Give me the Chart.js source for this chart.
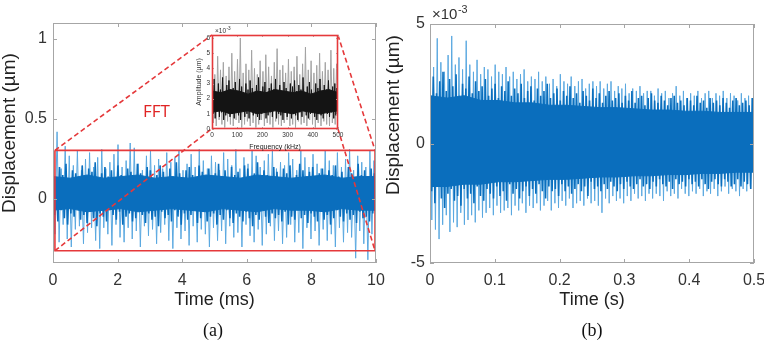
<!DOCTYPE html>
<html>
<head>
<meta charset="utf-8">
<script src="https://cdn.jsdelivr.net/npm/chart.js@4.4.0/dist/chart.umd.min.js"></script>
<style>
  html, body { margin: 0; padding: 0; background: #fff; }
  #wrap { position: relative; width: 764px; height: 350px; overflow: hidden; }
  #wrap canvas { position: absolute; }
  .cap { position: absolute; top: 320px; width: 40px; line-height: 20px; text-align: center;
         font: 18px "Liberation Serif", "Times New Roman", serif; color: #111; }
</style>
</head>
<body>
<div id="wrap">
  <canvas id="chartA" width="385" height="350" style="left:0;top:0"></canvas>
  <canvas id="chartB" width="384" height="350" style="left:380px;top:0"></canvas>
  <canvas id="chartInset"></canvas>
  <div class="cap" style="left:193px">(a)</div>
  <div class="cap" style="left:572px">(b)</div>
</div>
<script>
// ---- (a) displacement, 0-10 ms (um) ----
const timeRangeA = [0, 10];
const xTicksA = [0, 2, 4, 6, 8, 10];
const yTicksA = [0, 0.5, 1];
// sparse outer tips of the trace (light), read left to right
const tipsTopA = [
  0.24, 0.42, 0.19, 0.33, 0.27, 0.21, 0.3, 0.18, 0.25, 0.29,
  0.2, 0.26, 0.31, 0.19, 0.23, 0.28, 0.34, 0.2, 0.24, 0.35,
  0.32, 0.22, 0.18, 0.27, 0.3, 0.21, 0.25, 0.19, 0.29, 0.23,
  0.26, 0.3, 0.18, 0.22, 0.28, 0.2, 0.31, 0.24, 0.19, 0.27,
  0.23, 0.18, 0.29, 0.25, 0.21, 0.31, 0.19, 0.26, 0.22, 0.3,
  0.27, 0.2, 0.24, 0.28, 0.31, 0.19, 0.23, 0.21, 0.29, 0.25,
  0.18, 0.3, 0.26, 0.2, 0.28, 0.22, 0.19, 0.3, 0.24, 0.21,
  0.29, 0.2, 0.25, 0.31, 0.18, 0.27, 0.23, 0.2, 0.3, 0.24
];
const tipsBottomA = [
  -0.22, -0.27, -0.16, -0.25, -0.3, -0.19, -0.17, -0.28, -0.21, -0.18,
  -0.26, -0.31, -0.18, -0.22, -0.29, -0.16, -0.24, -0.27, -0.18, -0.25,
  -0.2, -0.3, -0.17, -0.23, -0.19, -0.28, -0.21, -0.16, -0.26, -0.31,
  -0.18, -0.25, -0.2, -0.29, -0.17, -0.27, -0.19, -0.22, -0.3, -0.18,
  -0.26, -0.2, -0.28, -0.17, -0.24, -0.21, -0.3, -0.16, -0.23, -0.27,
  -0.19, -0.29, -0.22, -0.17, -0.26, -0.2, -0.28, -0.24, -0.16, -0.27,
  -0.21, -0.31, -0.18, -0.25, -0.2, -0.29, -0.19, -0.26, -0.22, -0.3,
  -0.18, -0.27, -0.21, -0.24, -0.37, -0.2, -0.28, -0.38, -0.22, -0.26
];
// dense (dark) part of the trace
const coreTopA = [
  0.17, 0.12, 0.2, 0.15, 0.22, 0.13, 0.18, 0.16, 0.11, 0.21,
  0.14, 0.19, 0.17, 0.23, 0.12, 0.16, 0.2, 0.14, 0.18, 0.13,
  0.21, 0.15, 0.11, 0.19, 0.17, 0.14, 0.22, 0.16, 0.12, 0.2,
  0.18, 0.13, 0.15, 0.21, 0.17, 0.11, 0.19, 0.14, 0.23, 0.16,
  0.12, 0.18, 0.2, 0.15, 0.13, 0.21, 0.17, 0.14, 0.19, 0.12,
  0.16, 0.22, 0.14, 0.18, 0.11, 0.2, 0.15, 0.17, 0.13, 0.21,
  0.19, 0.12, 0.16, 0.23, 0.14, 0.18, 0.15, 0.11, 0.2, 0.17,
  0.13, 0.19, 0.16, 0.21, 0.12, 0.15, 0.22, 0.18, 0.14, 0.17,
  0.2, 0.13, 0.16, 0.19, 0.11, 0.18, 0.15, 0.21, 0.14, 0.17,
  0.12, 0.2, 0.16, 0.13, 0.22, 0.15, 0.18, 0.14, 0.19, 0.16
];
const coreBottomA = [
  -0.1, -0.14, -0.07, -0.12, -0.16, -0.09, -0.11, -0.06, -0.13, -0.1,
  -0.15, -0.08, -0.12, -0.17, -0.09, -0.11, -0.14, -0.07, -0.1, -0.13,
  -0.08, -0.16, -0.11, -0.09, -0.14, -0.12, -0.06, -0.1, -0.15, -0.09,
  -0.13, -0.11, -0.17, -0.08, -0.12, -0.1, -0.14, -0.07, -0.11, -0.16,
  -0.09, -0.13, -0.1, -0.06, -0.15, -0.12, -0.08, -0.14, -0.11, -0.09,
  -0.16, -0.1, -0.13, -0.07, -0.12, -0.15, -0.09, -0.11, -0.14, -0.08,
  -0.12, -0.17, -0.1, -0.13, -0.06, -0.11, -0.15, -0.09, -0.12, -0.1,
  -0.14, -0.08, -0.16, -0.11, -0.13, -0.07, -0.12, -0.1, -0.15, -0.09,
  -0.11, -0.14, -0.08, -0.13, -0.1, -0.16, -0.12, -0.07, -0.11, -0.14,
  -0.09, -0.13, -0.1, -0.15, -0.08, -0.12, -0.11, -0.14, -0.09, -0.12
];
// solid middle of the trace
const innerTopA = [0.14, 0.13, 0.15, 0.13, 0.14, 0.15, 0.13, 0.14, 0.13, 0.15, 0.14, 0.13, 0.15, 0.14, 0.13, 0.14, 0.15, 0.13, 0.14, 0.14];
const innerBottomA = [-0.07, -0.06, -0.08, -0.07, -0.06, -0.08, -0.07, -0.06, -0.07, -0.08, -0.06, -0.07, -0.08, -0.06, -0.07, -0.07, -0.08, -0.06, -0.07, -0.07];
// red zoom box (data coords) and the inset frame it points to
const zoomBoxX = [0.06, 9.97];
const zoomBoxY = [-0.323, 0.304];
const insetFrameX = [4.92, 8.82];
const insetFrameY = [0.44, 1.025];

// ---- inset: FFT amplitude, 0-500 kHz (x10^-3 um) ----
const freqRange = [0, 500];
const xTicksI = [0, 100, 200, 300, 400, 500];
const yTicksI = [0, 1, 2, 3, 4, 5, 6];
const tipsTopI = [
  4.2, 3.6, 4.8, 3.9, 4.4, 3.5, 4.1, 5.0, 3.8, 4.6, 6.0, 3.7, 4.3, 3.9, 5.2,
  4.0, 3.6, 4.5, 3.8, 4.9, 4.1, 3.5, 4.4, 5.3, 3.9, 4.2, 3.7, 4.6, 3.8, 4.1,
  4.8, 3.6, 4.3, 5.4, 3.9, 4.5, 3.7, 4.2, 5.0, 3.8, 4.4, 3.9, 5.2, 4.0, 4.3
];
const tipsBottomI = [
  0.4, 0.2, 0.6, 0.3, 0.1, 0.5, 0.3, 0.2, 0.6, 0.4, 0.1, 0.3, 0.5, 0.2, 0.4,
  0.1, 0.3, 0.6, 0.2, 0.4, 0.3, 0.1, 0.5, 0.3, 0.2, 0.4, 0.6, 0.2, 0.3, 0.1,
  0.5, 0.3, 0.4, 0.2, 0.6, 0.3, 0.1, 0.4, 0.2, 0.5, 0.3, 0.2, 0.4, 0.3, 0.5
];
const coreTopI = [
  2.8, 3.3, 2.4, 3.0, 2.6, 3.4, 2.5, 2.9, 3.2, 2.3, 2.7, 3.1, 2.5, 3.3, 2.8, 2.4, 3.0, 2.6, 3.2, 2.7,
  2.3, 2.9, 3.4, 2.5, 2.8, 3.1, 2.4, 2.7, 3.0, 2.6, 3.3, 2.5, 2.9, 2.4, 3.1, 2.7, 2.3, 3.0, 2.8, 3.2,
  2.5, 2.9, 2.6, 3.4, 2.4, 2.8, 3.1, 2.6, 2.3, 3.0, 2.7, 3.3, 2.5, 2.9, 2.6, 3.2, 2.4, 2.8, 3.0, 2.7
];
const coreBottomI = [
  1.0, 0.7, 1.2, 0.8, 1.1, 0.6, 0.9, 1.3, 0.8, 1.0, 0.7, 1.1, 0.9, 0.6, 1.2, 0.8, 1.0, 0.7, 1.3, 0.9,
  1.1, 0.8, 0.6, 1.0, 1.2, 0.7, 0.9, 1.1, 0.8, 1.3, 0.7, 1.0, 0.9, 0.6, 1.1, 0.8, 1.2, 0.7, 1.0, 0.9,
  0.6, 1.1, 0.8, 1.3, 0.9, 0.7, 1.0, 1.2, 0.8, 0.6, 1.1, 0.9, 0.7, 1.2, 1.0, 0.8, 1.1, 0.7, 0.9, 1.0
];
const innerTopI = [2.5, 2.4, 2.6, 2.5, 2.3, 2.5, 2.4, 2.6, 2.5, 2.4, 2.5, 2.3, 2.5, 2.6, 2.4];
const innerBottomI = [1.1, 1.2, 1.0, 1.1, 1.2, 1.0, 1.1, 1.2, 1.1, 1.0, 1.2, 1.1, 1.0, 1.1, 1.2];

// ---- (b) displacement, 0-0.5 s (x10^-3 um) ----
const timeRangeB = [0, 0.5];
const xTicksB = [0, 0.1, 0.2, 0.3, 0.4, 0.5];
const yTicksB = [-5, 0, 5];
const tipsTopB = [
  3.6, 3.2, 4.4, 3.4, 3.0, 3.7, 4.5, 3.3, 3.6, 3.1, 4.3,
  3.3, 3.0, 3.5, 2.9, 3.2, 3.1, 2.8, 3.3, 3.0, 2.9,
  3.2, 2.8, 3.0, 2.7, 2.9, 3.1, 2.6, 2.8, 2.7, 3.0,
  2.6, 2.8, 2.5, 2.7, 2.4, 2.9, 2.6, 2.5, 2.8, 2.4, 2.6, 2.7, 2.3, 2.5, 2.6,
  2.4, 2.6, 2.3, 2.5, 2.6, 2.2, 2.4, 2.3, 2.5, 2.1, 2.3, 2.2, 2.4, 2.1, 2.2,
  2.2, 2.0, 2.3, 2.1, 2.2, 1.9, 2.1, 2.4, 2.0, 2.2, 1.9, 2.1, 2.0, 2.2, 1.9,
  2.1, 2.2, 1.9, 2.1, 2.0, 2.2, 1.9, 2.1, 2.0, 1.8, 2.1, 1.9, 2.0, 1.9
];
const tipsBottomB = [
  -3.2, -3.6, -4.0, -3.4, -3.0, -3.7, -3.3, -3.5, -2.9, -3.4, -3.2,
  -3.0, -3.3, -2.8, -3.1, -2.9, -2.7, -3.0, -2.6, -2.9, -2.8,
  -2.7, -3.0, -2.6, -2.8, -2.5, -2.9, -2.6, -2.7, -2.5, -2.8,
  -2.6, -2.4, -2.8, -2.5, -2.7, -2.4, -2.6, -2.3, -2.7, -2.5, -2.4, -2.6, -2.3, -2.5, -2.4,
  -2.6, -2.9, -2.3, -2.5, -2.2, -2.4, -2.3, -2.5, -2.2, -2.4, -2.1, -2.3, -2.2, -2.4, -2.1,
  -2.3, -2.1, -2.2, -2.4, -2.0, -2.2, -2.1, -2.3, -1.9, -2.1, -2.2, -2.0, -2.1, -1.9, -2.2,
  -2.0, -2.1, -1.9, -2.2, -2.0, -1.8, -2.1, -1.9, -2.0, -2.2, -1.9, -2.0, -1.8, -2.0
];
const coreTopB = [
  2.3, 2.8, 2.1, 2.6, 3.0, 2.2, 2.7, 2.4, 2.9, 2.0,
  2.5, 2.3, 2.8, 2.1, 2.6, 2.2, 2.4, 2.7, 2.0, 2.3,
  2.5, 1.9, 2.4, 2.2, 2.6, 2.0, 2.3, 2.1, 2.5, 1.9,
  2.2, 2.4, 1.8, 2.3, 2.0, 2.2, 2.5, 1.9, 2.1, 2.3,
  1.8, 2.2, 2.0, 2.4, 1.9, 2.1, 1.7, 2.2, 2.0, 1.8,
  2.3, 1.9, 2.1, 1.7, 2.0, 2.2, 1.8, 1.9, 2.1, 1.7,
  2.0, 1.8, 2.2, 1.7, 1.9, 2.0, 1.6, 1.9, 2.1, 1.8,
  1.7, 2.0, 1.8, 1.6, 1.9, 2.0, 1.7, 1.8, 1.6, 1.9,
  1.8, 1.6, 2.0, 1.7, 1.8, 1.5, 1.9, 1.7, 1.8, 1.6,
  1.9, 1.7, 1.5, 1.8, 1.9, 1.6, 1.7, 1.8, 1.6, 1.9
];
const coreBottomB = [
  -2.0, -2.5, -1.8, -2.3, -2.7, -2.1, -1.9, -2.4, -2.2, -2.6,
  -1.9, -2.3, -2.1, -2.5, -1.8, -2.2, -2.4, -1.9, -2.1, -2.3,
  -1.8, -2.2, -2.0, -2.4, -1.7, -2.1, -1.9, -2.3, -2.0, -1.8,
  -2.2, -1.9, -2.1, -1.7, -2.0, -2.3, -1.8, -2.0, -1.9, -2.2,
  -1.7, -2.0, -1.8, -2.1, -1.9, -1.7, -2.0, -1.8, -2.2, -1.6,
  -1.9, -1.8, -2.0, -1.7, -1.9, -1.6, -1.8, -2.0, -1.7, -1.9,
  -1.6, -1.8, -1.9, -1.7, -1.5, -1.8, -1.7, -1.9, -1.6, -1.8,
  -1.5, -1.7, -1.8, -1.6, -1.9, -1.5, -1.7, -1.6, -1.8, -1.5,
  -1.7, -1.6, -1.8, -1.5, -1.7, -1.9, -1.6, -1.5, -1.7, -1.8,
  -1.5, -1.6, -1.8, -1.7, -1.5, -1.8, -1.6, -1.7, -1.9, -1.6
];
const innerTopB = [2.0, 1.9, 2.0, 1.8, 1.8, 1.7, 1.7, 1.6, 1.6, 1.55, 1.5, 1.5, 1.45, 1.4, 1.4, 1.35, 1.35, 1.3, 1.3, 1.3];
const innerBottomB = [-1.8, -1.8, -1.7, -1.7, -1.6, -1.6, -1.55, -1.5, -1.5, -1.45, -1.4, -1.4, -1.35, -1.35, -1.3, -1.3, -1.25, -1.25, -1.2, -1.2];

// ---- styling ----
const FONT = '"Liberation Sans", Arial, Helvetica, sans-serif';
const BLUE = '#0a6ebd';
const LIGHT_BLUE = '#5aa8e0';
const RED = '#e5393b';
const BOX = '#a6a6a6';
const TEXT = '#333';

Chart.defaults.font.family = FONT;

// alternate top/bottom values along the x axis -> noisy trace
function zigzag(tops, bottoms, range) {
  const n = Math.min(tops.length, bottoms.length);
  const step = (range[1] - range[0]) / (n - 0.5);
  const pts = [];
  for (let i = 0; i < n; i++) {
    pts.push({ x: range[0] + i * step, y: tops[i] });
    pts.push({ x: range[0] + (i + 0.5) * step, y: bottoms[i] });
  }
  return pts;
}
function spread(vals, range) {
  return vals.map((v, i) => ({ x: range[0] + i * (range[1] - range[0]) / (vals.length - 1), y: v }));
}
const fmt = v => String(Math.round(v * 1000) / 1000);

// trace = light tips behind, dark dense part, solid middle band
function traceDatasets(tipsTop, tipsBottom, coreTop, coreBottom, innerTop, innerBottom, range, dark, light, coreWidth) {
  return [
    { data: spread(innerTop, range), borderColor: dark, backgroundColor: dark, borderWidth: 1, fill: '+1', order: 1 },
    { data: spread(innerBottom, range), borderColor: dark, borderWidth: 1, fill: false, order: 1 },
    { data: zigzag(coreTop, coreBottom, range), borderColor: dark, borderWidth: coreWidth, fill: false, order: 2 },
    { data: zigzag(tipsTop, tipsBottom, range), borderColor: light, borderWidth: 1, fill: false, order: 3 }
  ];
}

// MATLAB-like frame: box, inward ticks on all sides, y label, exponent, notes
const matlabFrame = {
  id: 'matlabFrame',
  afterDatasetsDraw(chart, args, o) {
    const { ctx, chartArea: a } = chart;
    const { x, y } = chart.scales;
    ctx.save();
    ctx.lineWidth = 1;
    ctx.strokeStyle = o.tickColor;
    ctx.beginPath();
    x.ticks.forEach(t => {
      const p = Math.round(x.getPixelForValue(t.value)) + 0.5;
      ctx.moveTo(p, a.bottom); ctx.lineTo(p, a.bottom - o.tickLen);
      ctx.moveTo(p, a.top); ctx.lineTo(p, a.top + o.tickLen);
    });
    y.ticks.forEach(t => {
      const p = Math.round(y.getPixelForValue(t.value)) + 0.5;
      ctx.moveTo(a.left, p); ctx.lineTo(a.left + o.tickLen, p);
      ctx.moveTo(a.right, p); ctx.lineTo(a.right - o.tickLen, p);
    });
    ctx.stroke();
    ctx.lineWidth = o.boxWidth;
    ctx.strokeStyle = o.boxColor;
    ctx.strokeRect(a.left + 0.5, a.top + 0.5, a.right - a.left - 1, a.bottom - a.top - 1);

    if (o.yTitle) {
      ctx.save();
      ctx.translate(o.yTitle.x, o.yTitle.y);
      ctx.rotate(-Math.PI / 2);
      ctx.font = o.yTitle.size + 'px ' + FONT;
      ctx.fillStyle = '#222';
      ctx.textAlign = 'center';
      ctx.textBaseline = 'middle';
      ctx.fillText(o.yTitle.text, 0, 0);
      ctx.restore();
    }
    if (o.exponent) {
      const e = o.exponent;
      ctx.font = e.size + 'px ' + FONT;
      ctx.fillStyle = TEXT;
      ctx.textAlign = 'left';
      ctx.textBaseline = 'alphabetic';
      ctx.fillText('\u00d710', e.x, e.y);
      const w = ctx.measureText('\u00d710').width;
      ctx.font = (e.size * 0.72) + 'px ' + FONT;
      ctx.fillText('-3', e.x + w + 0.5, e.y - e.size * 0.42);
    }
    if (o.note) {
      const n = o.note;
      ctx.font = n.font;
      ctx.fillStyle = n.color;
      ctx.textAlign = 'center';
      ctx.textBaseline = 'middle';
      ctx.fillText(n.text, x.getPixelForValue(n.x), y.getPixelForValue(n.y));
    }
    ctx.restore();
  }
};

function axisX(range, ticks, title, height, fontSize, pad, titlePad) {
  return {
    type: 'linear', min: range[0], max: range[1],
    afterBuildTicks: s => { s.ticks = ticks.map(v => ({ value: v })); },
    afterFit: s => { s.height = height; s.paddingLeft = 0; s.paddingRight = 0; },
    ticks: { padding: pad, color: TEXT, font: { size: fontSize }, callback: fmt, maxRotation: 0, autoSkip: false },
    grid: { display: false, drawTicks: false },
    border: { display: false },
    title: { display: !!title.text, text: title.text, color: '#222', font: { size: title.size }, padding: { top: 0, bottom: titlePad } }
  };
}
function axisY(min, max, ticks, width, fontSize, pad, title) {
  return {
    type: 'linear', min: min, max: max,
    afterBuildTicks: s => { s.ticks = ticks.map(v => ({ value: v })); },
    afterFit: s => { s.width = width; s.paddingTop = 0; s.paddingBottom = 0; },
    ticks: { padding: pad, color: TEXT, font: { size: fontSize }, callback: fmt, autoSkip: false },
    grid: { display: false, drawTicks: false },
    border: { display: false },
    title: title ? { display: true, text: title.text, color: '#333', font: { size: title.size }, padding: { top: title.pad, bottom: 0 } } : { display: false }
  };
}
const baseOptions = {
  responsive: false, animation: false, devicePixelRatio: 1,
  elements: { point: { radius: 0 }, line: { tension: 0 } },
};

// ---- panel (a) ----
const zoomBox = [
  { x: zoomBoxX[0], y: zoomBoxY[1] }, { x: zoomBoxX[1], y: zoomBoxY[1] },
  { x: zoomBoxX[1], y: zoomBoxY[0] }, { x: zoomBoxX[0], y: zoomBoxY[0] },
  { x: zoomBoxX[0], y: zoomBoxY[1] }
];
const connectors = [
  { x: zoomBoxX[0], y: zoomBoxY[1] }, { x: insetFrameX[0], y: insetFrameY[1] }, { x: insetFrameX[0], y: null },
  { x: zoomBoxX[0], y: zoomBoxY[0] }, { x: insetFrameX[0], y: insetFrameY[0] }, { x: insetFrameX[0], y: null },
  { x: insetFrameX[1], y: insetFrameY[1] }, { x: zoomBoxX[1], y: zoomBoxY[1] }, { x: zoomBoxX[1], y: null },
  { x: insetFrameX[1], y: insetFrameY[0] }, { x: zoomBoxX[1], y: zoomBoxY[0] }
];

const chartA = new Chart(document.getElementById('chartA'), {
  type: 'line',
  data: {
    datasets: [
      { data: zoomBox, borderColor: RED, borderWidth: 1.6, fill: false, order: 0 },
      { data: connectors, borderColor: RED, borderWidth: 1.6, borderDash: [5, 3], fill: false, spanGaps: false, order: 0 }
    ].concat(traceDatasets(tipsTopA, tipsBottomA, coreTopA, coreBottomA, innerTopA, innerBottomA, timeRangeA, BLUE, LIGHT_BLUE, 1.6))
  },
  options: Object.assign({}, baseOptions, {
    layout: { padding: { top: 23, right: 9, bottom: 39, left: 0 } },
    plugins: {
      legend: { display: false }, tooltip: { enabled: false },
      matlabFrame: {
        tickColor: BOX, boxColor: BOX, boxWidth: 1, tickLen: 4,
        yTitle: { text: 'Displacement (\u00b5m)', x: 10, y: 133, size: 19 },
        note: { text: 'FFT', x: 3.2, y: 0.545, font: '17px "Open Sans", ' + FONT, color: '#e02424' }
      }
    },
    scales: {
      x: axisX(timeRangeA, xTicksA, { text: 'Time (ms)', size: 18 }, 48, 16, 8, 0),
      y: axisY(-0.4, 1.1, yTicksA, 53, 16, 6, null)
    }
  }),
  plugins: [matlabFrame]
});

// ---- inset, placed on the frame given in panel (a) data coords ----
const INSET_PAD = { left: 20, top: 10, right: 8, bottom: 26 };
const sx = chartA.scales.x, sy = chartA.scales.y;
const fLeft = Math.round(sx.getPixelForValue(insetFrameX[0]));
const fRight = Math.round(sx.getPixelForValue(insetFrameX[1]));
const fTop = Math.round(sy.getPixelForValue(insetFrameY[1]));
const fBottom = Math.round(sy.getPixelForValue(insetFrameY[0]));
const insetCanvas = document.getElementById('chartInset');
insetCanvas.width = fRight - fLeft + INSET_PAD.left + INSET_PAD.right;
insetCanvas.height = fBottom - fTop + INSET_PAD.top + INSET_PAD.bottom;
insetCanvas.style.left = (fLeft - INSET_PAD.left) + 'px';
insetCanvas.style.top = (fTop - INSET_PAD.top) + 'px';

new Chart(insetCanvas, {
  type: 'line',
  data: {
    datasets: traceDatasets(tipsTopI, tipsBottomI, coreTopI, coreBottomI, innerTopI, innerBottomI, freqRange, '#141414', '#a3a3a3', 1)
  },
  options: Object.assign({}, baseOptions, {
    layout: { padding: { top: INSET_PAD.top, right: INSET_PAD.right, bottom: 0, left: 0 } },
    plugins: {
      legend: { display: false }, tooltip: { enabled: false },
      matlabFrame: {
        tickColor: '#b0b0b0', boxColor: RED, boxWidth: 1.6, tickLen: 2,
        exponent: { x: 23, y: 8, size: 6.5 }
      }
    },
    scales: {
      x: axisX(freqRange, xTicksI, { text: 'Frequency (kHz)', size: 7 }, INSET_PAD.bottom, 6.5, 2, 4),
      y: axisY(0, 6.2, yTicksI, INSET_PAD.left, 6.5, 2, { text: 'Amplitude (\u00b5m)', size: 7, pad: 3 })
    }
  }),
  plugins: [matlabFrame]
});

// ---- panel (b) ----
new Chart(document.getElementById('chartB'), {
  type: 'line',
  data: {
    datasets: traceDatasets(tipsTopB, tipsBottomB, coreTopB, coreBottomB, innerTopB, innerBottomB, timeRangeB, BLUE, LIGHT_BLUE, 1.6)
  },
  options: Object.assign({}, baseOptions, {
    layout: { padding: { top: 24, right: 10, bottom: 39, left: 0 } },
    plugins: {
      legend: { display: false }, tooltip: { enabled: false },
      matlabFrame: {
        tickColor: BOX, boxColor: BOX, boxWidth: 1, tickLen: 4,
        yTitle: { text: 'Displacement (\u00b5m)', x: 14, y: 115, size: 19 },
        exponent: { x: 52, y: 19, size: 15 }
      }
    },
    scales: {
      x: axisX(timeRangeB, xTicksB, { text: 'Time (s)', size: 18 }, 48, 16, 8, 0),
      y: axisY(-5, 5, yTicksB, 50, 16, 5, null)
    }
  }),
  plugins: [matlabFrame]
});
</script>
</body>
</html>
